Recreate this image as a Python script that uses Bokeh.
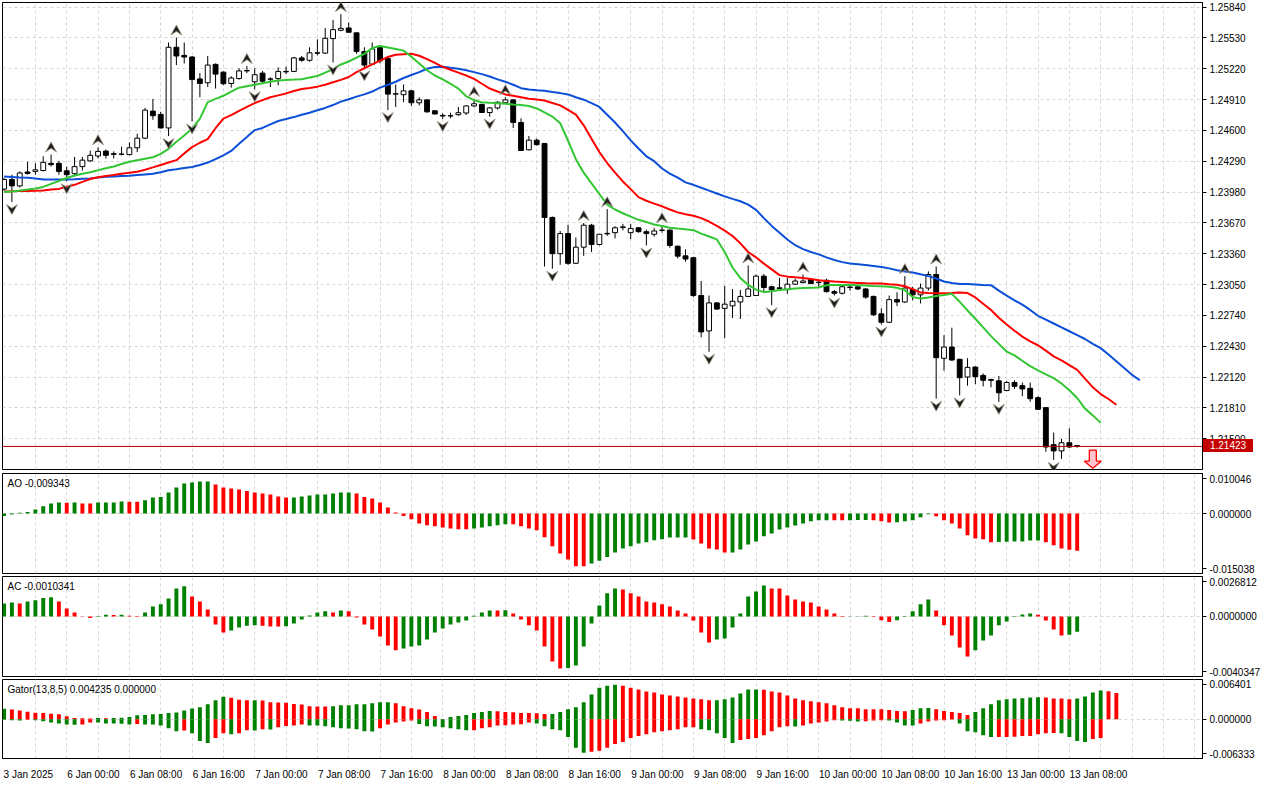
from bokeh.plotting import figure
from bokeh.layouts import column
from bokeh.models import Range1d, FixedTicker, Span, Label, Grid, PrintfTickFormatter, Div
from bokeh.embed import file_html
from bokeh.resources import INLINE

# ---------------- data (GBPUSD H1, 3 Jan 16:00 .. 13 Jan 09:00) ----------------
x_labels = ["3 Jan 2025", "6 Jan 00:00", "6 Jan 08:00", "6 Jan 16:00", "7 Jan 00:00",
            "7 Jan 08:00", "7 Jan 16:00", "8 Jan 00:00", "8 Jan 08:00", "8 Jan 16:00",
            "9 Jan 00:00", "9 Jan 08:00", "9 Jan 16:00", "10 Jan 00:00", "10 Jan 08:00",
            "10 Jan 16:00", "13 Jan 00:00", "13 Jan 08:00"]
x_label_bars = [0, 8, 16, 24, 32, 40, 48, 56, 64, 72, 80, 88, 96, 104, 112, 120, 128, 136]

price_ticks = [1.21500, 1.21810, 1.22120, 1.22430, 1.22740, 1.23050, 1.23360, 1.23670,
               1.23980, 1.24290, 1.24600, 1.24910, 1.25220, 1.25530, 1.25840]
price_range = (1.21191, 1.25886)

opens = [1.24010, 1.24107, 1.24042, 1.24182, 1.24188, 1.24197, 1.24269, 1.24269, 1.24194, 1.24165,
         1.24236, 1.24294, 1.24343, 1.24392, 1.24366, 1.24362, 1.24357, 1.24425, 1.24522, 1.24794,
         1.24761, 1.24625, 1.25436, 1.25354, 1.25338, 1.25118, 1.25079, 1.25264, 1.25186, 1.25072,
         1.25121, 1.25198, 1.25089, 1.25176, 1.25118, 1.25121, 1.25193, 1.25193, 1.25329, 1.25305,
         1.25380, 1.25377, 1.25523, 1.25607, 1.25630, 1.25581, 1.25393, 1.25266, 1.25436, 1.25322,
         1.24965, 1.24959, 1.24998, 1.24878, 1.24907, 1.24797, 1.24751, 1.24745, 1.24758, 1.24775,
         1.24846, 1.24862, 1.24780, 1.24826, 1.24878, 1.24907, 1.24680, 1.24405, 1.24502, 1.24469,
         1.23725, 1.23361, 1.23563, 1.23264, 1.23426, 1.23647, 1.23453, 1.23560, 1.23572, 1.23624,
         1.23572, 1.23621, 1.23582, 1.23556, 1.23595, 1.23598, 1.23436, 1.23339, 1.23320, 1.22940,
         1.22584, 1.22866, 1.22811, 1.22836, 1.22875, 1.22931, 1.22940, 1.23135, 1.23028, 1.23011,
         1.22999, 1.23054, 1.23070, 1.23103, 1.23074, 1.23093, 1.22979, 1.22963, 1.23025, 1.23028,
         1.23006, 1.22931, 1.22756, 1.22671, 1.22899, 1.22875, 1.23002, 1.22947, 1.23015, 1.23151,
         1.22309, 1.22422, 1.22299, 1.22121, 1.22221, 1.22137, 1.22095, 1.22082, 1.21985, 1.22066,
         1.22034, 1.22007, 1.21913, 1.21813, 1.21441, 1.21378, 1.21460, 1.21431]
highs = [1.24123, 1.24155, 1.24188, 1.24285, 1.24269, 1.24340, 1.24357, 1.24294, 1.24236, 1.24333,
         1.24333, 1.24398, 1.24431, 1.24408, 1.24389, 1.24437, 1.24479, 1.24567, 1.24826, 1.24917,
         1.24787, 1.25484, 1.25533, 1.25484, 1.25348, 1.25176, 1.25348, 1.25273, 1.25193, 1.25144,
         1.25225, 1.25247, 1.25225, 1.25198, 1.25134, 1.25234, 1.25241, 1.25338, 1.25348, 1.25436,
         1.25516, 1.25630, 1.25711, 1.25769, 1.25684, 1.25581, 1.25436, 1.25484, 1.25451, 1.25322,
         1.25062, 1.25062, 1.25006, 1.24933, 1.24914, 1.24802, 1.24771, 1.24778, 1.24836, 1.24852,
         1.24917, 1.24868, 1.24836, 1.24891, 1.24933, 1.24911, 1.24722, 1.24544, 1.24518, 1.24473,
         1.23735, 1.23589, 1.23653, 1.23524, 1.23669, 1.23660, 1.23556, 1.23808, 1.23637, 1.23660,
         1.23660, 1.23628, 1.23604, 1.23621, 1.23647, 1.23604, 1.23443, 1.23404, 1.23329, 1.23086,
         1.22940, 1.22875, 1.23038, 1.23006, 1.22996, 1.23242, 1.23151, 1.23157, 1.23038, 1.23118,
         1.23118, 1.23109, 1.23151, 1.23109, 1.23103, 1.23109, 1.22996, 1.23038, 1.23054, 1.23044,
         1.23015, 1.22940, 1.22811, 1.22940, 1.22973, 1.23135, 1.23028, 1.23060, 1.23183, 1.23232,
         1.22542, 1.22617, 1.22304, 1.22309, 1.22228, 1.22156, 1.22105, 1.22131, 1.22082, 1.22088,
         1.22066, 1.22066, 1.21927, 1.21813, 1.21563, 1.21499, 1.21606, 1.21434]
lows = [1.23993, 1.23880, 1.24026, 1.24155, 1.24155, 1.24188, 1.24236, 1.24155, 1.24090, 1.24139,
        1.24197, 1.24285, 1.24318, 1.24318, 1.24318, 1.24350, 1.24350, 1.24382, 1.24512, 1.24707,
        1.24619, 1.24544, 1.25257, 1.25273, 1.24690, 1.24933, 1.25037, 1.25021, 1.25056, 1.25030,
        1.25111, 1.25176, 1.25014, 1.25079, 1.25037, 1.25053, 1.25166, 1.25186, 1.25290, 1.25290,
        1.25354, 1.25370, 1.25283, 1.25597, 1.25581, 1.25370, 1.25225, 1.25257, 1.25273, 1.24804,
        1.24836, 1.24884, 1.24846, 1.24852, 1.24778, 1.24761, 1.24716, 1.24722, 1.24748, 1.24755,
        1.24836, 1.24778, 1.24739, 1.24810, 1.24868, 1.24625, 1.24394, 1.24398, 1.24447, 1.23232,
        1.23210, 1.23249, 1.23249, 1.23258, 1.23339, 1.23378, 1.23443, 1.23540, 1.23514, 1.23595,
        1.23507, 1.23572, 1.23443, 1.23533, 1.23572, 1.23420, 1.23313, 1.23281, 1.22924, 1.22520,
        1.22374, 1.22795, 1.22510, 1.22714, 1.22704, 1.22924, 1.22936, 1.22972, 1.22843, 1.22989,
        1.22957, 1.23047, 1.23064, 1.23054, 1.23021, 1.22970, 1.22940, 1.22950, 1.22989, 1.22996,
        1.22908, 1.22736, 1.22649, 1.22665, 1.22834, 1.22866, 1.22892, 1.22860, 1.22989, 1.21903,
        1.22185, 1.22282, 1.21936, 1.22034, 1.22049, 1.22027, 1.22017, 1.21871, 1.21978, 1.22001,
        1.21927, 1.21871, 1.21791, 1.21369, 1.21288, 1.21298, 1.21408, 1.21410]
closes = [1.24107, 1.24042, 1.24172, 1.24168, 1.24204, 1.24279, 1.24256, 1.24188, 1.24155, 1.24236,
          1.24301, 1.24350, 1.24389, 1.24350, 1.24360, 1.24360, 1.24425, 1.24522, 1.24804, 1.24748,
          1.24625, 1.25436, 1.25348, 1.25338, 1.25111, 1.25072, 1.25257, 1.25166, 1.25069, 1.25127,
          1.25198, 1.25202, 1.25160, 1.25095, 1.25115, 1.25193, 1.25189, 1.25329, 1.25305, 1.25380,
          1.25377, 1.25526, 1.25613, 1.25626, 1.25587, 1.25393, 1.25257, 1.25419, 1.25299, 1.24965,
          1.24969, 1.24998, 1.24878, 1.24907, 1.24787, 1.24765, 1.24745, 1.24748, 1.24778, 1.24846,
          1.24868, 1.24780, 1.24826, 1.24884, 1.24907, 1.24680, 1.24398, 1.24502, 1.24457, 1.23725,
          1.23361, 1.23563, 1.23264, 1.23426, 1.23647, 1.23453, 1.23556, 1.23565, 1.23621, 1.23631,
          1.23614, 1.23582, 1.23563, 1.23589, 1.23598, 1.23443, 1.23336, 1.23307, 1.22940, 1.22574,
          1.22866, 1.22804, 1.22853, 1.22882, 1.22931, 1.23006, 1.23135, 1.23021, 1.22999, 1.23018,
          1.23054, 1.23086, 1.23086, 1.23060, 1.23070, 1.22979, 1.22963, 1.23028, 1.23021, 1.23006,
          1.22924, 1.22746, 1.22671, 1.22899, 1.22875, 1.23015, 1.22947, 1.23015, 1.23151, 1.22315,
          1.22422, 1.22292, 1.22114, 1.22218, 1.22124, 1.22088, 1.22088, 1.21962, 1.22066, 1.22027,
          1.22001, 1.21903, 1.21796, 1.21417, 1.21378, 1.21460, 1.21417, 1.21423]

# Alligator lines, listed per drawn bar position (already shifted forward 8 / 5 / 3 bars)
jaw = [1.24136, 1.24131, 1.24126, 1.24123, 1.24117, 1.24107, 1.24107, 1.24107, 1.24107, 1.24110,
       1.24115, 1.24117, 1.24126, 1.24133, 1.24136, 1.24141, 1.24144, 1.24151, 1.24158, 1.24165,
       1.24180, 1.24199, 1.24209, 1.24223, 1.24233, 1.24253, 1.24277, 1.24311, 1.24350, 1.24394,
       1.24466, 1.24534, 1.24603, 1.24625, 1.24661, 1.24695, 1.24714, 1.24734, 1.24758, 1.24777,
       1.24802, 1.24826, 1.24855, 1.24889, 1.24914, 1.24940, 1.24962, 1.24991, 1.25030, 1.25059,
       1.25089, 1.25127, 1.25157, 1.25186, 1.25220, 1.25237, 1.25241, 1.25230, 1.25220, 1.25205,
       1.25186, 1.25166, 1.25142, 1.25113, 1.25089, 1.25059, 1.25025, 1.25011, 1.25004, 1.24998,
       1.24986, 1.24975, 1.24962, 1.24933, 1.24909, 1.24875, 1.24836, 1.24758, 1.24680, 1.24593,
       1.24500, 1.24418, 1.24340, 1.24291, 1.24217, 1.24165, 1.24126, 1.24078, 1.24053, 1.24024,
       1.23995, 1.23966, 1.23937, 1.23912, 1.23888, 1.23854, 1.23801, 1.23718, 1.23640, 1.23572,
       1.23504, 1.23446, 1.23407, 1.23378, 1.23354, 1.23324, 1.23297, 1.23276, 1.23261, 1.23254,
       1.23247, 1.23237, 1.23227, 1.23213, 1.23195, 1.23181, 1.23172, 1.23154, 1.23135, 1.23111,
       1.23081, 1.23067, 1.23057, 1.23055, 1.23052, 1.23047, 1.23044, 1.22989, 1.22940, 1.22892,
       1.22848, 1.22795, 1.22736, 1.22697, 1.22659, 1.22620, 1.22581, 1.22542, 1.22503, 1.22454,
       1.22411, 1.22347, 1.22279, 1.22211, 1.22143, 1.22088]
teeth = [1.23987, 1.23988, 1.23990, 1.23992, 1.23994, 1.23997, 1.24005, 1.24012, 1.24034, 1.24053,
         1.24083, 1.24112, 1.24129, 1.24141, 1.24152, 1.24165, 1.24175, 1.24185, 1.24204, 1.24228,
         1.24253, 1.24277, 1.24301, 1.24369, 1.24432, 1.24476, 1.24512, 1.24622, 1.24719, 1.24753,
         1.24797, 1.24836, 1.24875, 1.24904, 1.24933, 1.24952, 1.24972, 1.24996, 1.25016, 1.25027,
         1.25040, 1.25059, 1.25084, 1.25108, 1.25137, 1.25186, 1.25225, 1.25263, 1.25302, 1.25338,
         1.25361, 1.25366, 1.25370, 1.25351, 1.25317, 1.25278, 1.25239, 1.25210, 1.25181, 1.25152,
         1.25118, 1.25069, 1.25021, 1.24991, 1.24962, 1.24948, 1.24933, 1.24918, 1.24911, 1.24901,
         1.24875, 1.24852, 1.24807, 1.24758, 1.24651, 1.24515, 1.24382, 1.24272, 1.24175, 1.24087,
         1.24010, 1.23929, 1.23893, 1.23864, 1.23837, 1.23805, 1.23776, 1.23757, 1.23742, 1.23718,
         1.23684, 1.23640, 1.23592, 1.23538, 1.23465, 1.23378, 1.23324, 1.23261, 1.23203, 1.23145,
         1.23130, 1.23123, 1.23117, 1.23106, 1.23093, 1.23086, 1.23080, 1.23075, 1.23070, 1.23067,
         1.23064, 1.23062, 1.23060, 1.23054, 1.23049, 1.23033, 1.23004, 1.22970, 1.22965, 1.22963,
         1.22963, 1.22965, 1.22970, 1.22965, 1.22921, 1.22858, 1.22795, 1.22717, 1.22649, 1.22586,
         1.22527, 1.22479, 1.22440, 1.22386, 1.22328, 1.22289, 1.22241, 1.22192, 1.22104, 1.22017,
         1.21949, 1.21900, 1.21842]
lips = [1.23980, 1.23987, 1.23995, 1.24005, 1.24016, 1.24032, 1.24063, 1.24092, 1.24121, 1.24146,
        1.24165, 1.24180, 1.24199, 1.24219, 1.24238, 1.24262, 1.24285, 1.24301, 1.24316, 1.24330,
        1.24364, 1.24415, 1.24486, 1.24549, 1.24617, 1.24719, 1.24884, 1.24917, 1.24948, 1.24991,
        1.25030, 1.25045, 1.25059, 1.25074, 1.25090, 1.25101, 1.25108, 1.25111, 1.25115, 1.25132,
        1.25147, 1.25181, 1.25215, 1.25263, 1.25293, 1.25332, 1.25370, 1.25429, 1.25448, 1.25434,
        1.25419, 1.25402, 1.25341, 1.25273, 1.25205, 1.25152, 1.25113, 1.25069, 1.25020, 1.24943,
        1.24904, 1.24884, 1.24878, 1.24873, 1.24868, 1.24860, 1.24855, 1.24846, 1.24821, 1.24782,
        1.24739, 1.24673, 1.24496, 1.24311, 1.24175, 1.24068, 1.23961, 1.23854, 1.23805, 1.23767,
        1.23733, 1.23701, 1.23679, 1.23653, 1.23640, 1.23621, 1.23613, 1.23606, 1.23597, 1.23562,
        1.23533, 1.23504, 1.23378, 1.23222, 1.23115, 1.23047, 1.22999, 1.22974, 1.22984, 1.22996,
        1.23004, 1.23010, 1.23015, 1.23018, 1.23021, 1.23044, 1.23047, 1.23047, 1.23047, 1.23044,
        1.23041, 1.23036, 1.23033, 1.23028, 1.23018, 1.22994, 1.22924, 1.22911, 1.22921, 1.22936,
        1.22945, 1.22957, 1.22877, 1.22790, 1.22707, 1.22620, 1.22532, 1.22454, 1.22377, 1.22338,
        1.22284, 1.22231, 1.22187, 1.22148, 1.22109, 1.22056, 1.21988, 1.21910, 1.21803, 1.21735,
        1.21660]

up_fractals = [6, 12, 22, 31, 43, 60, 64, 74, 77, 84, 95, 102, 115, 119]
down_fractals = [1, 8, 21, 24, 32, 42, 46, 49, 56, 62, 70, 82, 90, 98, 106, 112, 119, 122, 127, 134]
signal_bar = 139
signal_top = 1.21385

ao = [-0.00060, -0.00025, 0.00017, 0.00042, 0.00100, 0.00184, 0.00251, 0.00276, 0.00274, 0.00277,
      0.00251, 0.00249, 0.00276, 0.00278, 0.00280, 0.00301, 0.00298, 0.00295, 0.00334, 0.00401,
      0.00418, 0.00527, 0.00652, 0.00752, 0.00777, 0.00803, 0.00806, 0.00727, 0.00652, 0.00627,
      0.00602, 0.00568, 0.00527, 0.00502, 0.00477, 0.00426, 0.00401, 0.00404, 0.00426, 0.00451,
      0.00477, 0.00480, 0.00502, 0.00527, 0.00530, 0.00502, 0.00418, 0.00376, 0.00276, 0.00150,
      0.00025, -0.00059, -0.00142, -0.00251, -0.00293, -0.00318, -0.00351, -0.00376, -0.00393, -0.00395,
      -0.00376, -0.00351, -0.00318, -0.00293, -0.00268, -0.00270, -0.00318, -0.00376, -0.00418, -0.00594,
      -0.00819, -0.01003, -0.01154, -0.01321, -0.01325, -0.01254, -0.01187, -0.01087, -0.00978, -0.00878,
      -0.00819, -0.00752, -0.00719, -0.00669, -0.00644, -0.00602, -0.00600, -0.00598, -0.00652, -0.00752,
      -0.00878, -0.00903, -0.00978, -0.00975, -0.00903, -0.00777, -0.00702, -0.00568, -0.00502, -0.00401,
      -0.00351, -0.00301, -0.00251, -0.00192, -0.00167, -0.00165, -0.00167, -0.00169, -0.00166, -0.00164,
      -0.00162, -0.00168, -0.00192, -0.00226, -0.00217, -0.00192, -0.00167, -0.00092, -0.00017, -0.00067,
      -0.00167, -0.00251, -0.00376, -0.00543, -0.00627, -0.00644, -0.00719, -0.00711, -0.00709, -0.00702,
      -0.00700, -0.00677, -0.00675, -0.00719, -0.00794, -0.00878, -0.00905, -0.009343]
ac = [0.00087, 0.00094, 0.00087, 0.00101, 0.00108, 0.00123, 0.00128, 0.00101, 0.00054, 0.00027,
      -0.00002, -0.00011, -0.00004, 0.00011, 0.00010, 0.00012, 0.00004, -0.00004, 0.00027, 0.00067,
      0.00081, 0.00121, 0.00188, 0.00202, 0.00134, 0.00101, 0.00047, -0.00054, -0.00108, -0.00094,
      -0.00074, -0.00063, -0.00060, -0.00063, -0.00067, -0.00068, -0.00066, -0.00047, -0.00020, 0.00007,
      0.00027, 0.00034, 0.00027, 0.00040, 0.00034, -0.00007, -0.00054, -0.00087, -0.00134, -0.00195,
      -0.00228, -0.00215, -0.00202, -0.00195, -0.00155, -0.00108, -0.00081, -0.00054, -0.00040, -0.00027,
      0.00004, 0.00027, 0.00040, 0.00039, 0.00041, 0.00020, -0.00020, -0.00060, -0.00094, -0.00202,
      -0.00302, -0.00349, -0.00347, -0.00329, -0.00202, -0.00047, 0.00074, 0.00155, 0.00188, 0.00181,
      0.00155, 0.00134, 0.00101, 0.00094, 0.00081, 0.00067, 0.00040, 0.00020, -0.00027, -0.00108,
      -0.00175, -0.00155, -0.00148, -0.00074, 0.00020, 0.00134, 0.00168, 0.00208, 0.00188, 0.00187,
      0.00141, 0.00114, 0.00101, 0.00094, 0.00067, 0.00047, 0.00020, -0.00004, -0.00002, 0.00002,
      0.00004, -0.00004, -0.00025, -0.00038, -0.00025, -0.00004, 0.00034, 0.00081, 0.00114, 0.00040,
      -0.00060, -0.00128, -0.00208, -0.00269, -0.00228, -0.00161, -0.00128, -0.00060, -0.00034, -0.00004,
      0.00013, 0.00020, 0.00011, -0.00027, -0.00087, -0.00128, -0.00123, -0.0010341]
gator_up = [0.00168, 0.00157, 0.00141, 0.00121, 0.00105, 0.00100, 0.00089, 0.00079, 0.00047, 0.00021,
            0.00016, 0.00010, 0.00021, 0.00016, 0.00021, 0.00022, 0.00037, 0.00063, 0.00068, 0.00079,
            0.00084, 0.00100, 0.00110, 0.00141, 0.00173, 0.00194, 0.00241, 0.00304, 0.00362, 0.00346,
            0.00314, 0.00304, 0.00305, 0.00303, 0.00272, 0.00271, 0.00267, 0.00246, 0.00236, 0.00210,
            0.00204, 0.00203, 0.00210, 0.00225, 0.00226, 0.00241, 0.00242, 0.00257, 0.00272, 0.00273,
            0.00257, 0.00210, 0.00178, 0.00157, 0.00115, 0.00052, 0.00005, 0.00037, 0.00052, 0.00068,
            0.00100, 0.00115, 0.00131, 0.00130, 0.00115, 0.00114, 0.00100, 0.00099, 0.00097, 0.00084,
            0.00085, 0.00115, 0.00162, 0.00194, 0.00272, 0.00398, 0.00508, 0.00540, 0.00555, 0.00539,
            0.00508, 0.00477, 0.00445, 0.00430, 0.00398, 0.00383, 0.00367, 0.00351, 0.00335, 0.00320,
            0.00304, 0.00305, 0.00320, 0.00351, 0.00414, 0.00477, 0.00478, 0.00476, 0.00445, 0.00430,
            0.00383, 0.00335, 0.00304, 0.00288, 0.00272, 0.00257, 0.00225, 0.00194, 0.00178, 0.00177,
            0.00162, 0.00161, 0.00160, 0.00147, 0.00131, 0.00130, 0.00147, 0.00178, 0.00179, 0.00162,
            0.00131, 0.00115, 0.00100, 0.00068, 0.00115, 0.00178, 0.00241, 0.00304, 0.00320, 0.00335,
            0.00336, 0.00351, 0.00352, 0.00350, 0.00335, 0.00334, 0.00320, 0.00335, 0.00367, 0.00430,
            0.00461, 0.00450, 0.004235]
gator_down = [-0.00010, -0.00016, -0.00021, -0.00010, -0.00016, -0.00031, -0.00052, -0.00068, -0.00084, -0.00089,
              -0.00084, -0.00052, -0.00055, -0.00068, -0.00071, -0.00073, -0.00084, -0.00079, -0.00084, -0.00086,
              -0.00100, -0.00147, -0.00194, -0.00183, -0.00225, -0.00351, -0.00383, -0.00304, -0.00225, -0.00241,
              -0.00225, -0.00178, -0.00181, -0.00162, -0.00165, -0.00131, -0.00110, -0.00100, -0.00084, -0.00100,
              -0.00102, -0.00115, -0.00131, -0.00147, -0.00149, -0.00162, -0.00194, -0.00199, -0.00147, -0.00084,
              -0.00052, -0.00037, -0.00021, -0.00079, -0.00115, -0.00117, -0.00131, -0.00147, -0.00162, -0.00178,
              -0.00177, -0.00147, -0.00131, -0.00100, -0.00099, -0.00084, -0.00083, -0.00052, -0.00068, -0.00115,
              -0.00162, -0.00178, -0.00288, -0.00461, -0.00540, -0.00524, -0.00508, -0.00461, -0.00398, -0.00367,
              -0.00304, -0.00272, -0.00241, -0.00210, -0.00194, -0.00178, -0.00162, -0.00131, -0.00130, -0.00162,
              -0.00178, -0.00225, -0.00304, -0.00383, -0.00335, -0.00320, -0.00304, -0.00257, -0.00194, -0.00131,
              -0.00115, -0.00116, -0.00100, -0.00068, -0.00052, -0.00037, -0.00018, -0.00021, -0.00024, -0.00037,
              -0.00031, -0.00021, -0.00016, -0.00021, -0.00052, -0.00100, -0.00101, -0.00068, -0.00037, -0.00021,
              -0.00018, -0.00005, -0.00068, -0.00194, -0.00210, -0.00257, -0.00288, -0.00287, -0.00286, -0.00283,
              -0.00272, -0.00270, -0.00241, -0.00225, -0.00223, -0.00226, -0.00288, -0.00351, -0.00367, -0.00320,
              -0.00304]

ao_axis = (-0.015038, 0.010046)
ac_axis = (-0.0040347, 0.0026812)
gator_axis = (-0.006333, 0.006401)

# ---------------- layout / style ----------------
W = 1264
LB, RB = 2, 62
FRAME_W = W - LB - RB
X0, X1 = -0.2, 153.0
PX_PER_BAR = FRAME_W / (X1 - X0)
MAIN_TOP, MAIN_BOT = 2, 2
MAIN_H, SUB_H, GATOR_H = 467, 100, 81
PX_PER_PRICE = MAIN_H / (price_range[1] - price_range[0])
FONT = "Liberation Sans"
FS = "10px"
GRID = "#d6d6d6"
GREEN, RED = "#008000", "#ff0000"
JAW_C, TEETH_C, LIPS_C = "#0b4fd8", "#ff0000", "#33c633"
PRICE_BOX = "#c40000"

xr = Range1d(X0, X1)
vgrid_ticks = list(range(4, 153, 4))


def make_fig(frame_h, yr, top, bottom, xaxis=False):
    p = figure(width=W, height=frame_h + top + bottom, x_range=xr, y_range=Range1d(*yr),
               output_backend="svg", toolbar_location=None, title=None,
               x_axis_location="below" if xaxis else None, y_axis_location="right",
               min_border_left=LB, min_border_right=RB, min_border_top=top,
               min_border_bottom=bottom, background_fill_color="white",
               border_fill_color="white")
    p.outline_line_color = "black"
    p.outline_line_width = 1
    p.grid.visible = False
    p.add_layout(Grid(dimension=0, ticker=FixedTicker(ticks=vgrid_ticks),
                      grid_line_color=GRID, grid_line_dash="3 3"))
    ax = p.yaxis[0]
    ax.major_label_text_font = FONT
    ax.major_label_text_font_size = FS
    ax.major_label_text_color = "black"
    ax.major_tick_in = 0
    ax.major_tick_out = 4
    ax.minor_tick_in = 0
    ax.minor_tick_out = 0
    ax.major_label_standoff = 3
    ax.axis_line_color = "black"
    return p


def hgrid(p, ticks):
    p.add_layout(Grid(dimension=1, ticker=FixedTicker(ticks=ticks),
                      grid_line_color=GRID, grid_line_dash="3 3"))


def edge_ticks(p, rng, frame_h, labels):
    inset = 5.0 * (rng[1] - rng[0]) / frame_h
    ticks = [round(rng[0] + inset, 9), 0.0, round(rng[1] - inset, 9)]
    p.yaxis[0].ticker = FixedTicker(ticks=ticks)
    p.yaxis[0].major_label_overrides = dict(zip(ticks, labels))
    hgrid(p, [0.0])


def up_down_colors(vals):
    out = []
    for i, v in enumerate(vals):
        prev = vals[i - 1] if i > 0 else v
        out.append(GREEN if abs(v) > abs(prev) or i == 0 else RED)
    return out


def rise_colors(vals):
    out = []
    for i, v in enumerate(vals):
        prev = vals[i - 1] if i > 0 else v - 1
        out.append(GREEN if v > prev else RED)
    return out


# ---------------- main price window ----------------
last = closes[-1]
main = make_fig(MAIN_H, price_range, MAIN_TOP, MAIN_BOT)
main.yaxis[0].ticker = FixedTicker(ticks=price_ticks)
main.yaxis[0].formatter = PrintfTickFormatter(format="%.5f")
hgrid(main, price_ticks)

bars = list(range(len(opens)))
bull = [i for i in bars if closes[i] >= opens[i]]
bear = [i for i in bars if closes[i] < opens[i]]
main.segment(x0=bars, y0=highs, x1=bars, y1=lows, line_color="black", line_width=1)
main.vbar(x=bull, width=0.62, top=[closes[i] for i in bull], bottom=[opens[i] for i in bull],
          fill_color="white", line_color="black", line_width=1)
main.vbar(x=bear, width=0.62, top=[opens[i] for i in bear], bottom=[closes[i] for i in bear],
          fill_color="black", line_color="black", line_width=1)

main.line(list(range(len(jaw))), jaw, line_color=JAW_C, line_width=2)
main.line(list(range(len(teeth))), teeth, line_color=TEETH_C, line_width=2)
main.line(list(range(len(lips))), lips, line_color=LIPS_C, line_width=2)

# fractal arrows
fw = 5.5 / PX_PER_BAR
fh = 10.0 / PX_PER_PRICE
fg = 2.5 / PX_PER_PRICE
fxs, fys = [], []
for i in up_fractals:
    b = highs[i] + fg
    fxs.append([i - fw, i, i + fw, i])
    fys.append([b, b + fh, b, b + 0.38 * fh])
for i in down_fractals:
    b = lows[i] - fg
    fxs.append([i - fw, i, i + fw, i])
    fys.append([b, b - fh, b, b - 0.38 * fh])
main.patches(fxs, fys, fill_color="#1e1e1e", line_color="#9c9480", line_width=0.8)

# current price line
main.add_layout(Span(location=last, dimension="width", line_color="#b40000", line_width=1))

# sell-signal arrow
sw, hw = 3.5 / PX_PER_BAR, 8.5 / PX_PER_BAR
sh, hh = 11.0 / PX_PER_PRICE, 7.0 / PX_PER_PRICE
sx = signal_bar
main.patch([sx - sw, sx + sw, sx + sw, sx + hw, sx, sx - hw, sx - sw],
           [signal_top, signal_top, signal_top - sh, signal_top - sh, signal_top - sh - hh,
            signal_top - sh, signal_top - sh],
           fill_color="#ffc4d0", line_color="#ff0000", line_width=1.3)

# current-price box on the price scale, overlaid on the main axis area
main_total_h = MAIN_H + MAIN_TOP + MAIN_BOT
BOX_W, BOX_H = 50, 13
price_sy = MAIN_TOP + (price_range[1] - last) / (price_range[1] - price_range[0]) * MAIN_H
box_top = int(round(price_sy - BOX_H / 2.0))
box = Div(text="%.5f" % last, width=BOX_W, height=BOX_H,
          margin=(box_top - main_total_h, 0, main_total_h - box_top - BOX_H, LB + FRAME_W + 1),
          styles={"background-color": PRICE_BOX, "color": "white", "font-family": FONT,
                  "font-size": FS, "text-align": "center", "line-height": "%dpx" % BOX_H,
                  "overflow": "hidden", "padding": "0px", "box-sizing": "border-box"})

# ---------------- AO ----------------
aof = make_fig(SUB_H, ao_axis, 2, 1)
edge_ticks(aof, ao_axis, SUB_H, ["-0.015038", "0.000000", "0.010046"])
aof.vbar(x=list(range(len(ao))), top=ao, bottom=0, width=0.5,
         fill_color=rise_colors(ao), line_color=None)
aof.add_layout(Label(x=X0, y=ao_axis[1], x_offset=5, y_offset=-4, text="AO %.6f" % ao[-1],
                     text_baseline="top", text_font=FONT, text_font_size=FS, text_color="black"))

# ---------------- AC ----------------
acf = make_fig(SUB_H, ac_axis, 2, 1)
edge_ticks(acf, ac_axis, SUB_H, ["-0.0040347", "0.0000000", "0.0026812"])
acf.vbar(x=list(range(len(ac))), top=ac, bottom=0, width=0.5,
         fill_color=rise_colors(ac), line_color=None)
acf.add_layout(Label(x=X0, y=ac_axis[1], x_offset=5, y_offset=-4, text="AC %.7f" % ac[-1],
                     text_baseline="top", text_font=FONT, text_font_size=FS, text_color="black"))

# ---------------- Gator ----------------
gf = make_fig(GATOR_H, gator_axis, 2, 22, xaxis=True)
edge_ticks(gf, gator_axis, GATOR_H, ["-0.006333", "0.000000", "0.006401"])
gf.vbar(x=list(range(len(gator_up))), top=gator_up, bottom=0, width=0.5,
        fill_color=up_down_colors(gator_up), line_color=None)
gf.vbar(x=list(range(len(gator_down))), top=0, bottom=gator_down, width=0.5,
        fill_color=up_down_colors(gator_down), line_color=None)
gf.add_layout(Label(x=X0, y=gator_axis[1], x_offset=5, y_offset=-4,
                    text="Gator(13,8,5) %.6f %.6f" % (gator_up[-1], 0.0),
                    text_baseline="top", text_font=FONT, text_font_size=FS, text_color="black"))

label_pos = [round(b + len(t) * 0.31, 2) for b, t in zip(x_label_bars, x_labels)]
xa = gf.xaxis[0]
xa.ticker = FixedTicker(ticks=label_pos)
xa.major_label_overrides = dict(zip(label_pos, x_labels))
xa.major_label_text_font = FONT
xa.major_label_text_font_size = FS
xa.major_label_text_color = "black"
xa.major_tick_line_color = None
xa.minor_tick_line_color = None
xa.axis_line_color = "black"
xa.major_label_standoff = 4

layout = column(main, box, aof, acf, gf, spacing=0)
open("out.html", "w").write(file_html(layout, INLINE))
